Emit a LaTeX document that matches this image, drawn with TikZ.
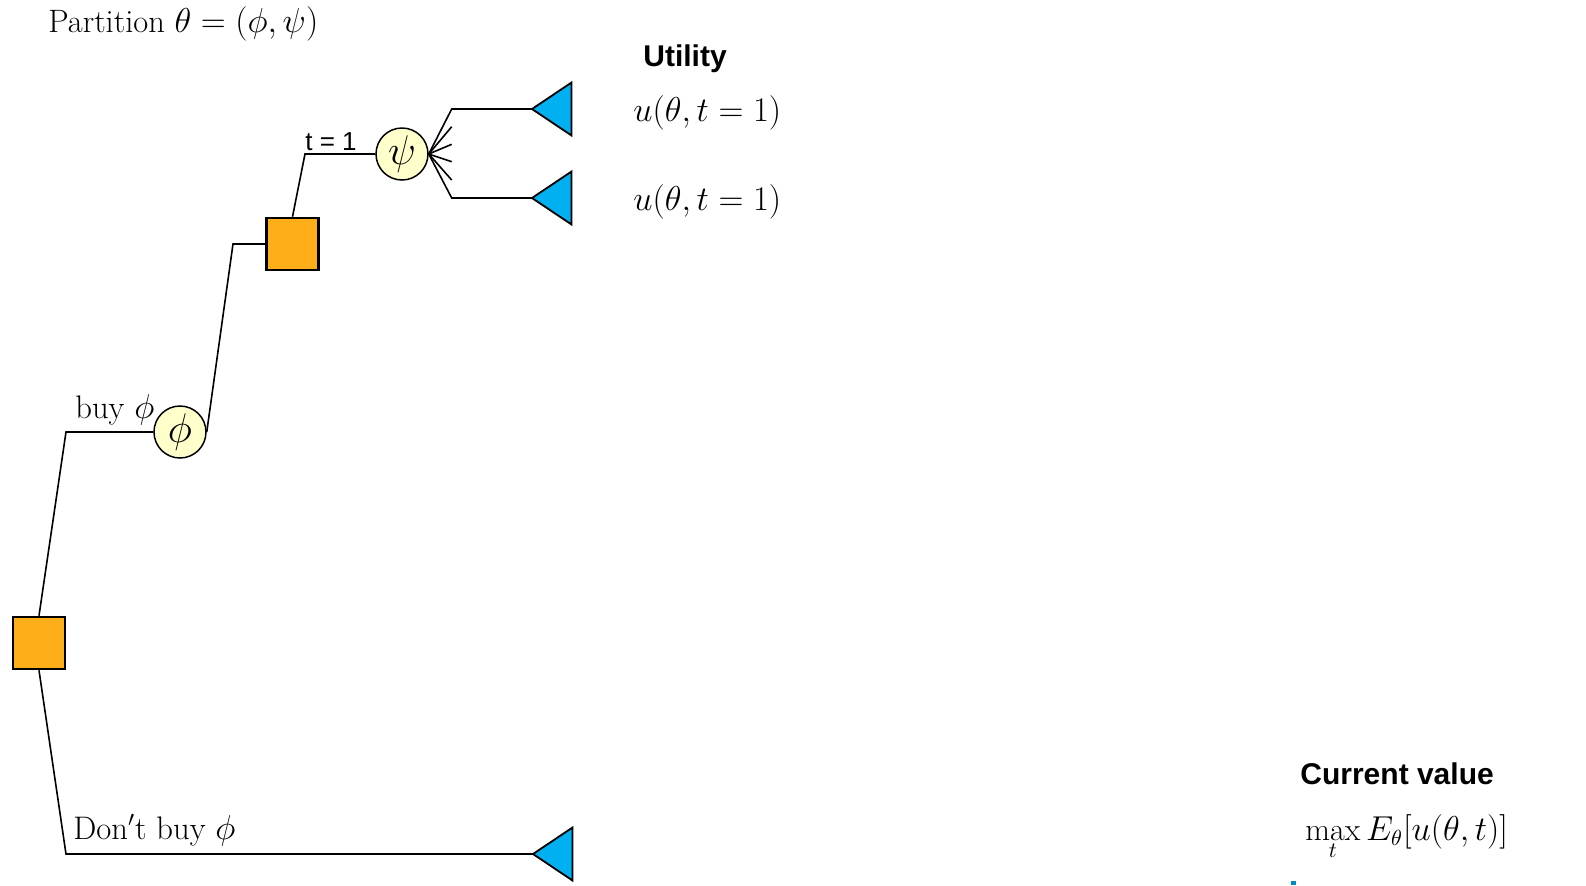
\documentclass[tikz,border=0pt]{standalone}
\usepackage{fontspec}
\newfontfamily\arialf{Liberation Sans}
\definecolor{sqorange}{RGB}{253,174,24}
\definecolor{chance}{RGB}{255,255,204}
\definecolor{leafblue}{RGB}{0,176,240}
\begin{document}
\begin{tikzpicture}[x=0.5pt,y=-0.5pt,
  decision/.style={draw=black,fill=sqorange,line width=1.3pt,minimum size=26pt,inner sep=0pt},
  chancenode/.style={circle,draw=black,fill=chance,line width=0.75pt,minimum size=26pt,inner sep=0pt,font=\fontsize{20}{20}\selectfont},
  leaf/.style={draw=black,fill=leafblue,line width=0.9pt,line join=miter},
  branch/.style={line width=0.8pt,draw=black},
  serif/.style={inner sep=0pt,font=\fontsize{16.3}{18}\selectfont},
  mathlbl/.style={inner sep=0pt,font=\fontsize{16}{18}\selectfont},
  sanslbl/.style={inner sep=0pt,font=\arialf\fontsize{13}{15}\selectfont},
  header/.style={inner sep=0pt,font=\arialf\bfseries\fontsize{15}{18}\selectfont}]
\useasboundingbox (0,0) rectangle (1586,885);
% nodes
\node[decision] (S1) at (39,643) {};
\node[decision] (S2) at (292.5,244) {};
\node[chancenode] (Phi) at (180,432) {$\phi$};
\node[chancenode] (Psi) at (402,154) {$\psi$};
% leaves
\coordinate (L1) at (532,109);
\coordinate (L2) at (532,198);
\coordinate (L3) at (533,854);
\foreach \t in {L1,L2,L3}{
  \draw[leaf] (\t) -- ++(39.5,-26.5) -- ++(0,53) -- cycle;
}
% corners
\coordinate (c1) at (66,432);
\coordinate (c2) at (66,854);
\coordinate (c3) at (233,244);
\coordinate (c4) at (305,154);
\coordinate (f1) at (451.7,109);
\coordinate (f2) at (451.7,198);
\coordinate (g1) at (451.7,126.7);
\coordinate (g2) at (451.7,144.3);
\coordinate (g3) at (451.7,161.7);
\coordinate (g4) at (451.7,180);
% connectors
\draw[branch] (S1.north) -- (c1) -- (Phi.west);
\draw[branch] (S1.south) -- (c2) -- (L3);
\draw[branch] (Phi.east) -- (c3) -- (S2.west);
\draw[branch] (S2.north) -- (c4) -- (Psi.west);
\draw[branch] (Psi.east) -- (f1) -- (L1);
\draw[branch] (Psi.east) -- (f2) -- (L2);
\foreach \g in {g1,g2,g3,g4}{\draw[branch] (Psi.east) -- (\g);}
% labels
\node[serif,anchor=base west,font=\fontsize{16.2}{18}\selectfont] (title) at (48,32) {Partition $\theta=(\phi,\psi)$};
\node[serif,anchor=base west] (buy) at (75,418) {buy $\phi$};
\node[serif,anchor=base west] (dont) at (73,839) {Don$'$t buy $\phi$};
\node[sanslbl,anchor=base west] (t1) at (305,150) {t = 1};
\node[header,anchor=base west] (util) at (643,66) {Utility};
\node[mathlbl,anchor=base west] (u1) at (633,121) {$u(\theta,t=1)$};
\node[mathlbl,anchor=base west] (u2) at (633,210) {$u(\theta,t=1)$};
\node[header,anchor=base west] (cv) at (1300,784) {Current value};
\node[mathlbl,anchor=base west] (mx) at (1305,840) {$\displaystyle\max_t E_\theta[u(\theta,t)]$};
\fill[leafblue!80!black] (1291,881) rectangle (1296,885);
\end{tikzpicture}
\end{document}
